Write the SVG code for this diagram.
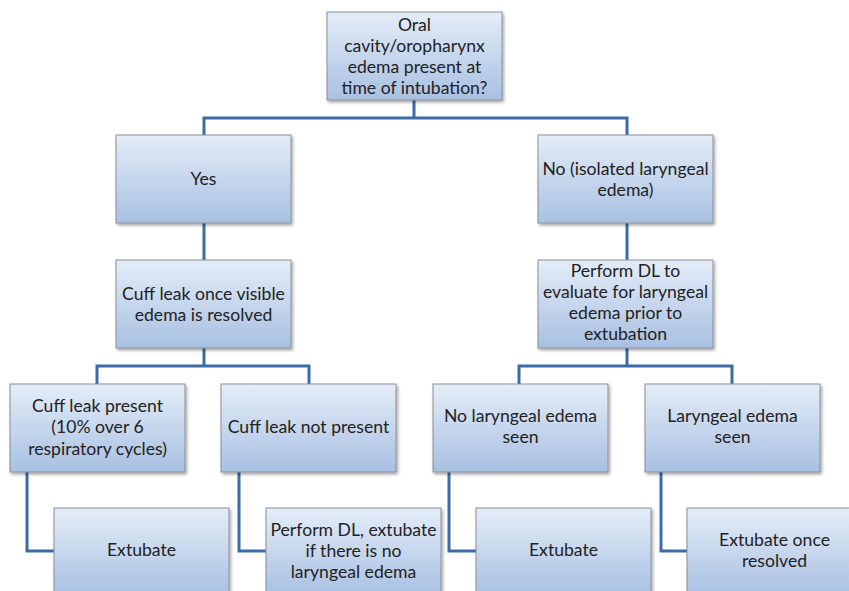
<svg xmlns="http://www.w3.org/2000/svg" width="849" height="591" viewBox="0 0 849 591">
<defs>
<linearGradient id="g" x1="0" y1="0" x2="0" y2="1">
<stop offset="0" stop-color="#e4edf8"/>
<stop offset="1" stop-color="#a8c0e2"/>
</linearGradient>
<filter id="sh" x="-10%" y="-10%" width="125%" height="130%">
<feDropShadow dx="1.5" dy="2" stdDeviation="1.5" flood-color="#000" flood-opacity="0.35"/>
</filter>
</defs>
<style>
.box{fill:url(#g);stroke:#8c8f96;stroke-width:1;filter:url(#sh)}
.t{font-family:Lato,"Open Sans","Liberation Sans",sans-serif;font-size:17.6px;fill:#222;text-anchor:middle}
.c{fill:none;stroke:#3d6ba8;stroke-width:3}
</style>
<rect width="849" height="591" fill="#fff"/>
<g id="connectors">
<path class="c" d="M414,100 V118 M204,118 H627 M204,116.5 V135 M627,116.5 V135"/>
<path class="c" d="M204,223 V260 M627,223 V260"/>
<path class="c" d="M204,348 V366 M97,366 H309 M97,364.5 V384 M309,364.5 V384"/>
<path class="c" d="M627,348 V366 M519,366 H732 M519,364.5 V384 M732,364.5 V384"/>
<path class="c" d="M27,472 V551 H54 M239,472 V551 H266 M449,472 V551 H476 M661,472 V551 H687"/>
</g>
<g id="n1"><rect class="box" x="327" y="12" width="175" height="88"/>
<text class="t" x="414.5" y="31">Oral</text><text class="t" x="414.5" y="52">cavity/oropharynx</text><text class="t" x="414.5" y="73">edema present at</text><text class="t" x="414.5" y="94">time of intubation?</text></g>
<g id="n2"><rect class="box" x="116" y="135" width="175" height="88"/><text class="t" x="203.5" y="185">Yes</text></g>
<g id="n3"><rect class="box" x="538" y="135" width="175" height="88"/><text class="t" x="625.5" y="175">No (isolated laryngeal</text><text class="t" x="625.5" y="196">edema)</text></g>
<g id="n4"><rect class="box" x="116" y="260" width="175" height="88"/><text class="t" x="203.5" y="300">Cuff leak once visible</text><text class="t" x="203.5" y="321">edema is resolved</text></g>
<g id="n5"><rect class="box" x="538" y="260" width="175" height="88"/><text class="t" x="625.5" y="277">Perform DL to</text><text class="t" x="625.5" y="298">evaluate for laryngeal</text><text class="t" x="625.5" y="319">edema prior to</text><text class="t" x="625.5" y="340">extubation</text></g>
<g id="n6"><rect class="box" x="10" y="384" width="175" height="88"/><text class="t" x="97.5" y="412">Cuff leak present</text><text class="t" x="97.5" y="433">(10% over 6</text><text class="t" x="97.5" y="455">respiratory cycles)</text></g>
<g id="n7"><rect class="box" x="221" y="384" width="175" height="88"/><text class="t" x="308.5" y="433">Cuff leak not present</text></g>
<g id="n8"><rect class="box" x="433" y="384" width="175" height="88"/><text class="t" x="520.5" y="422">No laryngeal edema</text><text class="t" x="520.5" y="443">seen</text></g>
<g id="n9"><rect class="box" x="645" y="384" width="175" height="88"/><text class="t" x="732.5" y="422">Laryngeal edema</text><text class="t" x="732.5" y="443">seen</text></g>
<g id="n10"><rect class="box" x="54" y="508" width="175" height="88"/><text class="t" x="141.5" y="556">Extubate</text></g>
<g id="n11"><rect class="box" x="266" y="508" width="175" height="88"/><text class="t" x="353.5" y="536">Perform DL, extubate</text><text class="t" x="353.5" y="557">if there is no</text><text class="t" x="353.5" y="578">laryngeal edema</text></g>
<g id="n12"><rect class="box" x="476" y="508" width="175" height="88"/><text class="t" x="563.5" y="556">Extubate</text></g>
<g id="n13"><rect class="box" x="687" y="508" width="175" height="88"/><text class="t" x="774.5" y="546">Extubate once</text><text class="t" x="774.5" y="567">resolved</text></g>
</svg>
